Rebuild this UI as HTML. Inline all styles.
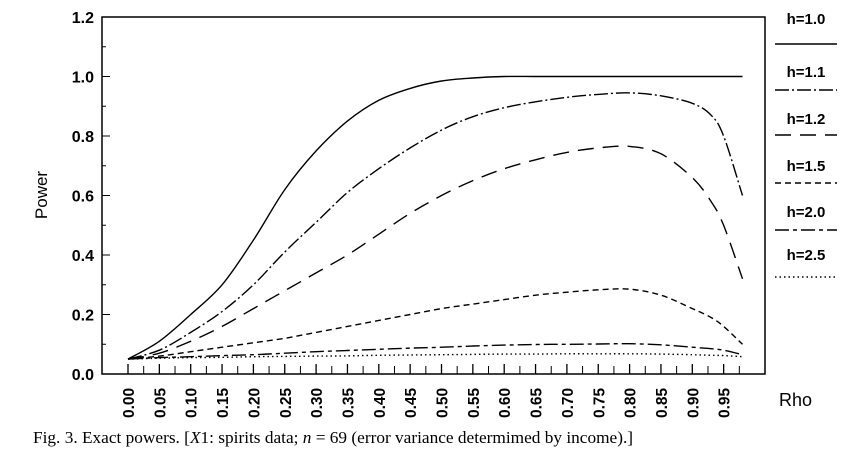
<!DOCTYPE html>
<html><head><meta charset="utf-8"><style>
body{margin:0;background:#fff;width:865px;height:458px;overflow:hidden}
svg{font-family:"Liberation Sans",sans-serif}
</style></head><body>
<svg width="865" height="458">
<g id="axes"></g><g id="series"></g><g id="legend"></g>
<text x="779" y="406" font-size="18">Rho</text>
<text x="47" y="195" font-size="17" transform="rotate(-90 47 195)" text-anchor="middle">Power</text>
<text x="33" y="443" font-family="Liberation Serif,serif" font-size="17.3">Fig. 3. Exact powers. [<tspan font-style="italic">X</tspan>1: spirits data; <tspan font-style="italic">n</tspan> = 69 (error variance determimed by income).]</text>
</svg>
<script>
const xTicks=["0.00","0.05","0.10","0.15","0.20","0.25","0.30","0.35","0.40","0.45","0.50","0.55","0.60","0.65","0.70","0.75","0.80","0.85","0.90","0.95"];
const yTicks=["0.0","0.2","0.4","0.6","0.8","1.0","1.2"];
const labels=["h=1.0","h=1.1","h=1.2","h=1.5","h=2.0","h=2.5"];
const rhoA=[0,0.05,0.10,0.15,0.20,0.25,0.30,0.35,0.40,0.45,0.50,0.55,0.60,0.65,0.70,0.75,0.80,0.85,0.90,0.93,0.95,0.98];
const h10=[0.05,0.11,0.20,0.30,0.45,0.62,0.75,0.85,0.92,0.96,0.985,0.995,1.0,1.0,1.0,1.0,1.0,1.0,1.0,1.0,1.0,1.0];
const h11=[0.05,0.08,0.14,0.21,0.30,0.41,0.51,0.61,0.69,0.76,0.82,0.865,0.895,0.915,0.93,0.94,0.945,0.935,0.91,0.87,0.80,0.60];
const h12=[0.05,0.07,0.11,0.16,0.22,0.28,0.34,0.40,0.47,0.54,0.60,0.65,0.69,0.72,0.745,0.76,0.765,0.74,0.66,0.58,0.50,0.32];
const h15=[0.05,0.06,0.075,0.09,0.105,0.12,0.14,0.16,0.18,0.20,0.22,0.235,0.25,0.265,0.275,0.283,0.285,0.265,0.22,0.19,0.16,0.10];
const h20=[0.05,0.055,0.058,0.062,0.065,0.07,0.075,0.079,0.083,0.087,0.09,0.094,0.097,0.099,0.10,0.101,0.102,0.098,0.09,0.085,0.08,0.065];
const h25=[0.05,0.053,0.055,0.056,0.058,0.059,0.06,0.061,0.063,0.064,0.065,0.066,0.067,0.067,0.068,0.068,0.068,0.067,0.065,0.063,0.062,0.058];
const series=[h10,h11,h12,h15,h20,h25];
const dashes=["","14 3 2 3","16 9","6 4","14 4 4 4","1.5 3"];
const NS="http://www.w3.org/2000/svg";
const X=v=>128+v/0.05*31.35, Y=v=>374-v*297.5;
function mk(t,a,p){const e=document.createElementNS(NS,t);for(const k in a)e.setAttribute(k,a[k]);p.appendChild(e);return e;}
const ax=document.getElementById('axes');
const frame=mk('rect',{x:102,y:17,width:663,height:357,fill:'none',stroke:'#000','stroke-width':1.5},ax);


yTicks.forEach((t,i)=>{const v=parseFloat(t);const y=Y(v);
 mk('line',{x1:102,x2:110,y1:y,y2:y,stroke:'#000'},ax);
 if(i<6) mk('line',{x1:102,x2:106,y1:Y(v+0.1),y2:Y(v+0.1),stroke:'#000'},ax);
 const tx=mk('text',{x:94,y:y+6,'font-size':16,'font-weight':'bold','text-anchor':'end'},ax);tx.textContent=t;
 
 });
xTicks.forEach((t,i)=>{const v=parseFloat(t);const x=X(v);
 mk('line',{x1:x,x2:x,y1:374,y2:364,stroke:'#000','stroke-width':1.3},ax);
 mk('line',{x1:X(v+0.025),x2:X(v+0.025),y1:374,y2:366,stroke:'#000'},ax);
 const tx=mk('text',{x:x+6,y:418,'font-size':15.5,'font-weight':'bold',transform:`rotate(-90 ${x+6} 418)`},ax);tx.textContent=t;
 
 });
function smooth(pts){let d='M'+pts[0][0].toFixed(1)+','+pts[0][1].toFixed(1);
 for(let i=0;i<pts.length-1;i++){const p0=pts[Math.max(0,i-1)],p1=pts[i],p2=pts[i+1],p3=pts[Math.min(pts.length-1,i+2)];
  const c1=[p1[0]+(p2[0]-p0[0])/6,p1[1]+(p2[1]-p0[1])/6],c2=[p2[0]-(p3[0]-p1[0])/6,p2[1]-(p3[1]-p1[1])/6];
  d+='C'+c1.map(n=>n.toFixed(1))+' '+c2.map(n=>n.toFixed(1))+' '+p2.map(n=>n.toFixed(1));}
 return d;}
const sg=document.getElementById('series');
series.forEach((s,k)=>{const d=smooth(s.map((v,i)=>[X(rhoA[i]),Y(v)]));
 const p=mk('path',{d:d,fill:'none',stroke:'#000','stroke-width':1.4,'stroke-dasharray':dashes[k]},sg);
 
 });
const lg=document.getElementById('legend');
labels.forEach((l,k)=>{const ty=[24,77,124,171,217,260][k], ly=[44,90,135,183,230,277][k];
 const tx=mk('text',{x:806,y:ty,'font-size':15,'font-weight':'bold','text-anchor':'middle'},lg);tx.textContent=l;
 
 
 const ln=mk('line',{x1:775,x2:837,y1:ly,y2:ly,stroke:'#000','stroke-width':1.4,'stroke-dasharray':dashes[k]},lg);
 
 });
</script>
</body></html>
